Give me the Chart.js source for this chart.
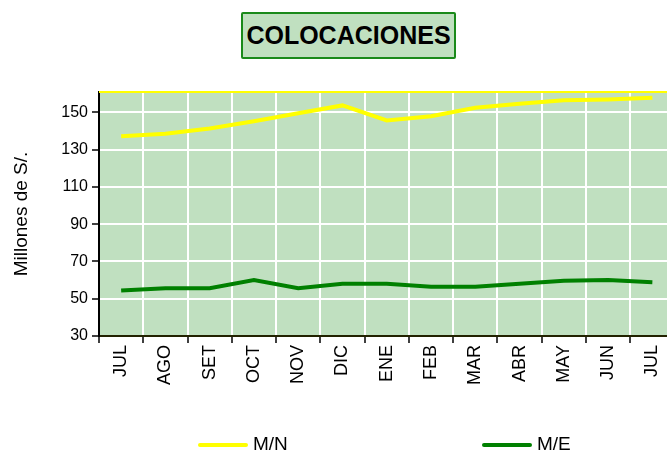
<!DOCTYPE html>
<html>
<head>
<meta charset="utf-8">
<script src="https://cdn.jsdelivr.net/npm/chart.js"></script>
<style>
  html, body { margin: 0; padding: 0; background: #fff; overflow: hidden; width: 667px; height: 452px; }
  #wrap { position: relative; width: 667px; height: 452px; overflow: hidden; font-family: "Liberation Sans", Arial, sans-serif; }
  #chartColoc { position: absolute; left: 0; top: 0; }
  .titulo { position: absolute; left: 241px; top: 12px; width: 211px; height: 43px; background: #c0e0c0; border: 2px solid #1a8a1a; border-radius: 2px;
            font-weight: bold; font-size: 25px; line-height: 43px; text-align: center; color: #000; }
  .ley { position: absolute; top: 434px; font-size: 19px; color: #000; height: 20px; line-height: 20px; }
  .ley span { display: inline-block; width: 50px; height: 4px; vertical-align: middle; margin-right: 5px; border-radius: 2px; }
</style>
</head>
<body>
<div id="wrap">
  <canvas id="chartColoc" width="676" height="452"></canvas>
  <div class="titulo">COLOCACIONES</div>
  <div class="ley" style="left:198px"><span style="background:#ffff00"></span>M/N</div>
  <div class="ley" style="left:482px"><span style="background:#008000"></span>M/E</div>
</div>

<script>
    // meses
    let meses = ['JUL', 'AGO', 'SET', 'OCT', 'NOV', 'DIC', 'ENE', 'FEB', 'MAR', 'ABR', 'MAY', 'JUN', 'JUL'];
    // moneda nacional
    let mn = [137.3, 138.6, 141.4, 145.3, 149.6, 153.8, 145.7, 148, 152.5, 154.7, 156.6, 157, 157.9];
    // moneda extranjera
    let me = [54.4, 55.7, 55.7, 60.1, 55.7, 58, 58, 56.5, 56.5, 58, 59.6, 60.1, 58.9];
    let ticksY = [30, 50, 70, 90, 110, 130, 150];

    // fondo verde y borde superior amarillo
    let fondo = {
        id: 'fondo',
        beforeDraw(chart) {
            let a = chart.chartArea, c = chart.ctx;
            c.save();
            c.fillStyle = '#c0e0c0';
            c.fillRect(a.left, a.top, a.right - a.left, a.bottom - a.top);
            c.restore();
        },
        beforeDatasetsDraw(chart) {
            let a = chart.chartArea, c = chart.ctx;
            c.save();
            c.fillStyle = '#ffff00';
            c.fillRect(a.left, a.top - 1, a.right - a.left, 2);
            c.restore();
        }
    };

    let ctx = document.getElementById('chartColoc').getContext('2d');
    let myChart = new Chart(ctx, {
        type: 'line',
        data: {
            labels: meses,
            datasets: [{
                label: 'M/N',
                data: mn,
                borderColor: '#ffff00',
                borderWidth: 4,
                pointRadius: 0,
                tension: 0
            }, {
                label: 'M/E',
                data: me,
                borderColor: '#008000',
                borderWidth: 4,
                pointRadius: 0,
                tension: 0
            }]
        },
        options: {
            responsive: false,
            animation: false,
            layout: { padding: { top: 92, left: 0, right: 1, bottom: 0 } },
            plugins: {
                legend: { display: false },
                tooltip: { enabled: false }
            },
            scales: {
                x: {
                    offset: true,
                    grid: { offset: true, color: '#ffffff', lineWidth: 2, tickColor: '#000', tickLength: 7, tickWidth: 1.5 },
                    border: { color: '#222200', width: 2 },
                    ticks: { color: '#000', font: { family: 'Liberation Sans', size: 18 }, minRotation: 90, maxRotation: 90, padding: 2, autoSkip: false },
                    afterFit(scale) { scale.height = 116; }
                },
                y: {
                    min: 30,
                    max: 161,
                    afterBuildTicks(scale) { scale.ticks = ticksY.map(v => ({ value: v })); },
                    grid: { color: '#ffffff', lineWidth: 2, tickColor: '#000', tickLength: 7, tickWidth: 1.5 },
                    border: { color: '#000', width: 2 },
                    ticks: { color: '#000', font: { family: 'Liberation Sans', size: 16 }, padding: 4 },
                    title: { display: true, text: 'Millones de S/.', color: '#000', font: { family: 'Liberation Sans', size: 19 }, padding: { top: 10, bottom: 0 } },
                    afterFit(scale) { scale.width = 99; }
                }
            }
        },
        plugins: [fondo]
    });
</script>
</body>
</html>
